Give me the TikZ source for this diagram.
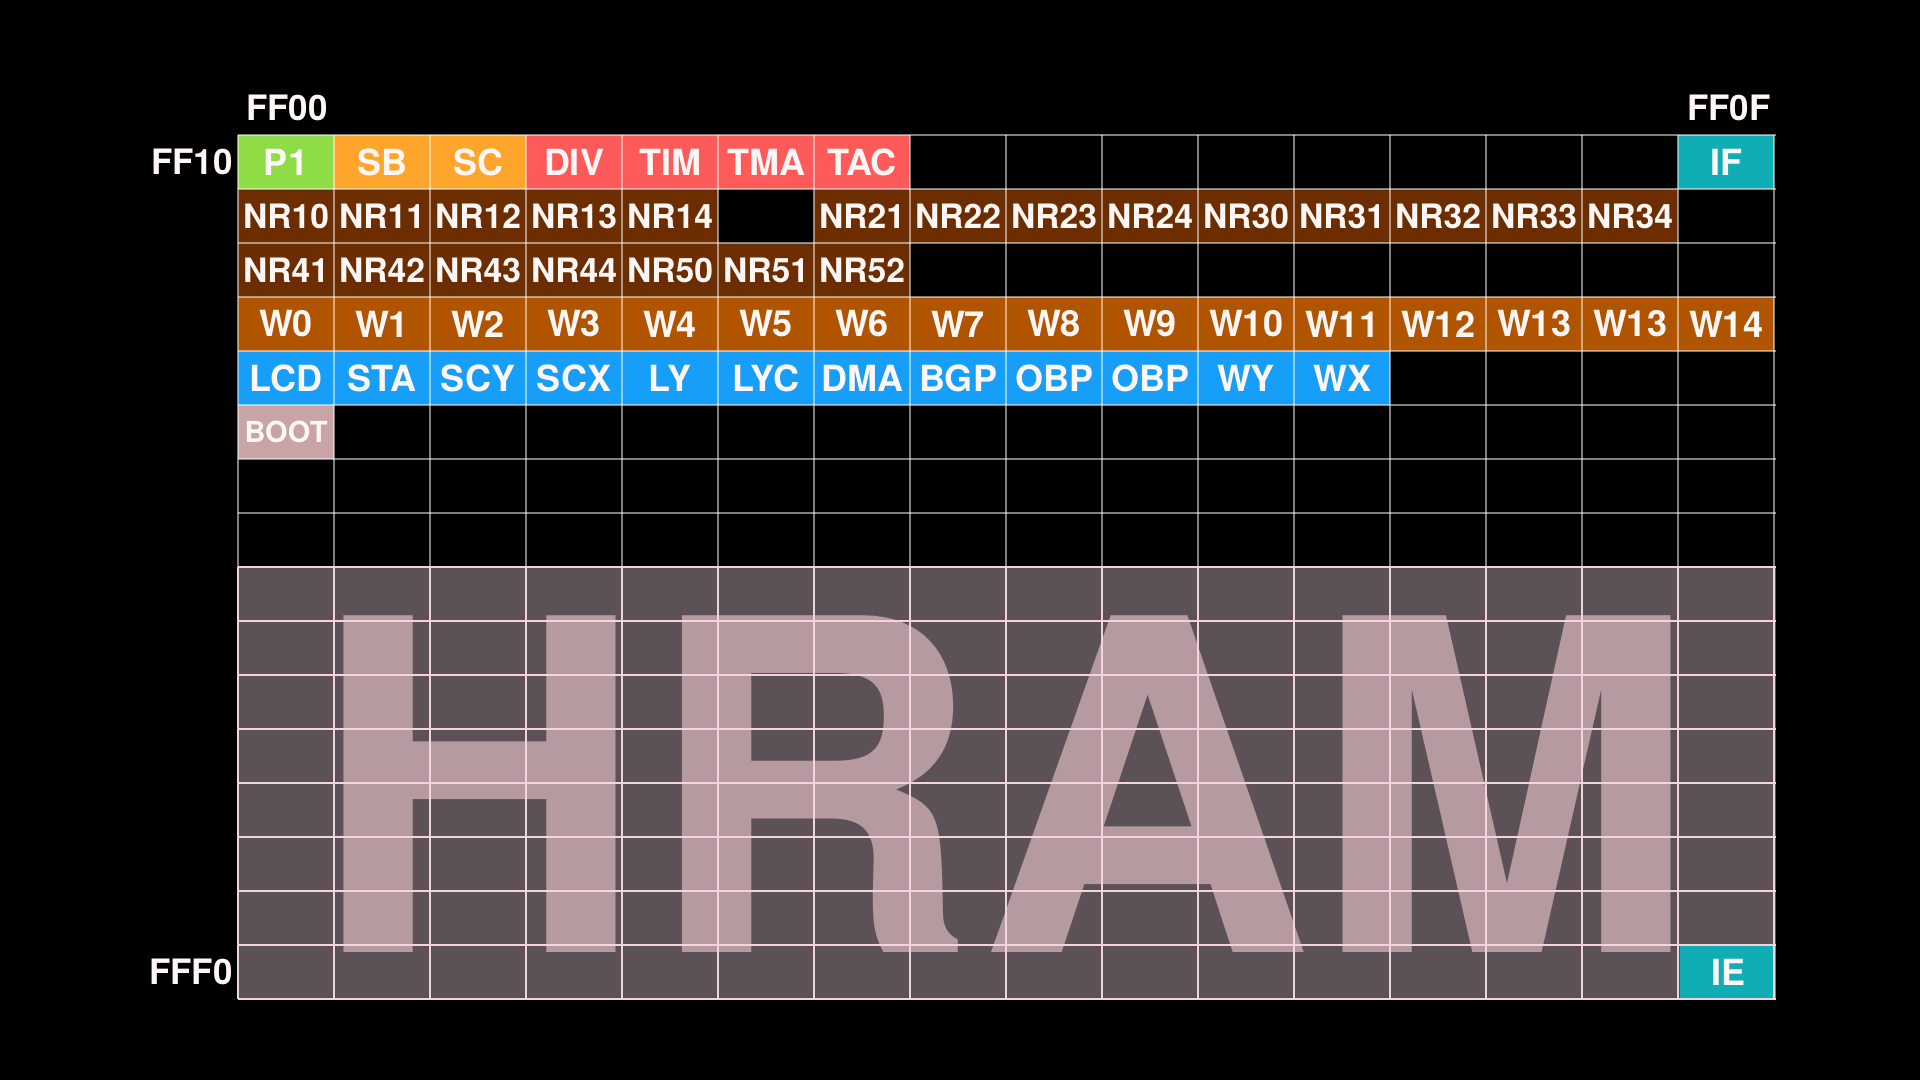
\documentclass[tikz,border=0pt]{standalone}
\usepackage{fontspec}
\usepackage{graphicx}
\setmainfont{TeX Gyre Heros}
\definecolor{cGreen}{RGB}{142,220,70}
\definecolor{cOrange}{RGB}{255,165,44}
\definecolor{cRed}{RGB}{255,90,90}
\definecolor{cNR}{RGB}{108,46,0}
\definecolor{cW}{RGB}{176,84,0}
\definecolor{cBlue}{RGB}{22,158,248}
\definecolor{cBoot}{RGB}{200,164,166}
\definecolor{cTeal}{RGB}{16,174,180}
\definecolor{cHbg}{RGB}{91,81,86}
\definecolor{cLetter}{RGB}{181,154,159}
\definecolor{cHline}{RGB}{244,212,220}
\definecolor{cText}{RGB}{255,246,246}
\newsavebox\labbox
\newcommand\fitlab[1]{\sbox\labbox{#1}\ifdim\wd\labbox>86pt\resizebox{86pt}{!}{\usebox\labbox}\else\usebox\labbox\fi}
\tikzset{
  cellbox/.style={minimum width=96pt, minimum height=54pt, inner sep=0pt,
    text=cText, font=\bfseries\fontsize{36}{36}\selectfont},
  addr/.style={inner sep=0pt, text=cText, font=\bfseries\fontsize{35}{35}\selectfont},
  topgrid/.style={draw=white, draw opacity=0.5, line width=1.4pt},
  hramgrid/.style={draw=cHline, line width=2pt}
}
\begin{document}
\begin{tikzpicture}[x=1pt,y=-1pt]
\fill[black] (0,0) rectangle (1920,1080);
\useasboundingbox (0,0) rectangle (1920,1080);
% HRAM area
\fill[cHbg] (238,567) rectangle (1776,999);
\node[anchor=base, inner sep=0pt, text=cLetter,
  font=\bfseries\fontsize{462}{462}\selectfont] (hram) at (1005,952) {HRAM};
% row 0
\foreach \c/\lab/\col in {0/P1/cGreen,1/SB/cOrange,2/SC/cOrange,3/DIV/cRed,4/TIM/cRed,5/TMA/cRed,6/TAC/cRed,15/IF/cTeal}
  \node[cellbox, fill=\col] (r0c\c) at ({286+96*\c},162) {\fitlab{\lab}};
% row 1
\foreach \c/\lab in {0/NR10,1/NR11,2/NR12,3/NR13,4/NR14,6/NR21,7/NR22,8/NR23,9/NR24,10/NR30,11/NR31,12/NR32,13/NR33,14/NR34}
  \node[cellbox, fill=cNR] (r1c\c) at ({286+96*\c},216) {\fitlab{\lab}};
% row 2
\foreach \c/\lab in {0/NR41,1/NR42,2/NR43,3/NR44,4/NR50,5/NR51,6/NR52}
  \node[cellbox, fill=cNR] (r2c\c) at ({286+96*\c},270) {\fitlab{\lab}};
% row 3
\foreach \c/\lab in {0/W0,1/W1,2/W2,3/W3,4/W4,5/W5,6/W6,7/W7,8/W8,9/W9,10/W10,11/W11,12/W12,13/W13,14/W13,15/W14}
  \node[cellbox, fill=cW] (r3c\c) at ({286+96*\c},324) {\fitlab{\lab}};
% row 4
\foreach \c/\lab in {0/LCD,1/STA,2/SCY,3/SCX,4/LY,5/LYC,6/DMA,7/BGP,8/OBP,9/OBP,10/WY,11/WX}
  \node[cellbox, fill=cBlue] (r4c\c) at ({286+96*\c},378) {\fitlab{\lab}};
% row 5
\node[cellbox, fill=cBoot, font=\bfseries\fontsize{29}{29}\selectfont] (r5c0) at (286,432) {BOOT};
% IE
\node[cellbox, fill=cTeal] (r15c15) at (1728,972) {IE};
% grid lines
\foreach \i in {0,...,16} {
  \draw[topgrid] ({238+96*\i},135) -- ({238+96*\i},567);
  \draw[hramgrid] ({238+96*\i},567) -- ({238+96*\i},999);
}
\foreach \j in {0,...,7}
  \draw[topgrid] (238,{135+54*\j}) -- (1776,{135+54*\j});
\foreach \j in {8,...,16}
  \draw[hramgrid] (238,{135+54*\j}) -- (1776,{135+54*\j});
% address labels
\node[addr] (ff00) at (287,108) {FF00};
\node[addr] (ff0f) at (1729,108) {FF0F};
\node[addr, anchor=east] (ff10) at (233,162) {FF10};
\node[addr, anchor=east] (fff0) at (233,972) {FFF0};
\end{tikzpicture}
\end{document}
